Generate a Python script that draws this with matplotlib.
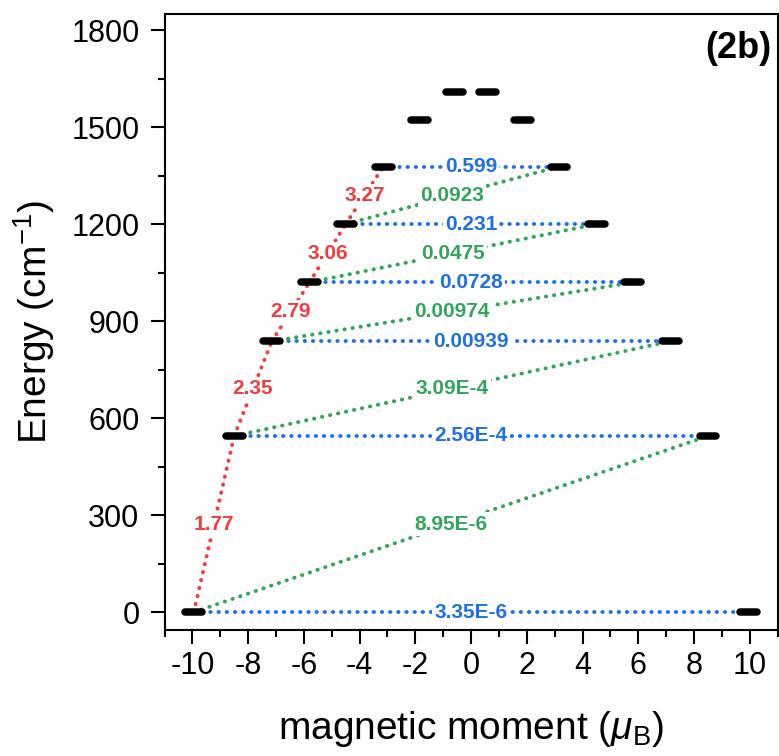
import matplotlib
matplotlib.use("Agg")
import matplotlib.pyplot as plt
import numpy as np

# energy levels: |moment| (muB) and energy (cm-1), each level has a -m and +m state
moment = [9.95, 8.5, 7.15, 5.8, 4.5, 3.15, 1.85, 0.6]
energy = [0, 545, 838, 1020, 1200, 1378, 1523, 1608]

# transition matrix elements
blue_labels = ['3.35E-6', '2.56E-4', '0.00939', '0.0728', '0.231', '0.599']
green_labels = ['8.95E-6', '3.09E-4', '0.00974', '0.0475', '0.0923']
red_labels = ['1.77', '2.35', '2.79', '3.06', '3.27']

blue = '#1f6fe5'
green = '#33a55a'
red = '#f03c3c'

plt.rcParams['font.family'] = ['Liberation Sans', 'DejaVu Sans']
plt.rcParams['mathtext.fontset'] = 'custom'
plt.rcParams['mathtext.rm'] = 'Liberation Sans'
plt.rcParams['mathtext.it'] = 'Liberation Sans:italic'
plt.rcParams['axes.unicode_minus'] = False

fig = plt.figure(figsize=(7.79, 7.56), dpi=100)
ax = fig.add_axes([0.2112, 0.1667, 0.7871, 0.8148])

dot = dict(linestyle=(0, (0.1, 2.0)), linewidth=2.8, dash_capstyle='round', zorder=2)
box = dict(facecolor='white', edgecolor='none', pad=1.5)
lab = dict(fontsize=15, fontweight='bold', ha='center', va='center', zorder=3)

m = np.array(moment)
e = np.array(energy)

# blue: -m -> +m on the same level
for i, txt in enumerate(blue_labels):
    ax.plot([-m[i], m[i]], [e[i], e[i]], color=blue, **dot)
    ax.text(0, e[i], txt, color=blue, bbox=box, **lab)

# green: -m(i) -> +m(i+1)
for i, txt in enumerate(green_labels):
    ax.plot([-m[i], m[i + 1]], [e[i], e[i + 1]], color=green, **dot)
    ax.text((-m[i] + m[i + 1]) / 2, (e[i] + e[i + 1]) / 2, txt, color=green, bbox=box, **lab)

# red: -m(i) -> -m(i+1)
for i, txt in enumerate(red_labels):
    ax.plot([-m[i], -m[i + 1]], [e[i], e[i + 1]], color=red, **dot)
    ax.text((-m[i] - m[i + 1]) / 2, (e[i] + e[i + 1]) / 2, txt, color=red, bbox=box, **lab)

# level bars
half = 0.3
for mi, ei in zip(moment, energy):
    for s in (-1, 1):
        ax.plot([s * mi - half, s * mi + half], [ei, ei], color='black',
                linewidth=5.4, solid_capstyle='round', zorder=4)

ax.set_xlim(-11, 11)
ax.set_ylim(-55, 1850)
ax.set_xticks(np.arange(-10, 11, 2))
ax.set_xticks(np.arange(-11, 12, 1), minor=True)
ax.set_yticks(np.arange(0, 1801, 300))
ax.set_yticks(np.arange(150, 1801, 300), minor=True)
ax.tick_params(which='both', direction='out', width=1.5, top=False, right=False)
ax.tick_params(which='major', length=10, labelsize=22)
ax.tick_params(axis='x', which='major', pad=5)
ax.tick_params(axis='y', which='major', pad=8)
ax.tick_params(which='minor', length=5)
for sp in ax.spines.values():
    sp.set_linewidth(1.5)

ax.set_xlabel(r'magnetic moment ($\mu_{\rm B}$)', fontsize=28, labelpad=20)
ax.set_ylabel(r'Energy (cm$^{-1}$)', fontsize=28, labelpad=10)

ax.text(0.99, 0.972, '(2b)', transform=ax.transAxes, fontsize=26, fontweight='bold',
        ha='right', va='top')

fig.savefig('out.png', dpi=100)
